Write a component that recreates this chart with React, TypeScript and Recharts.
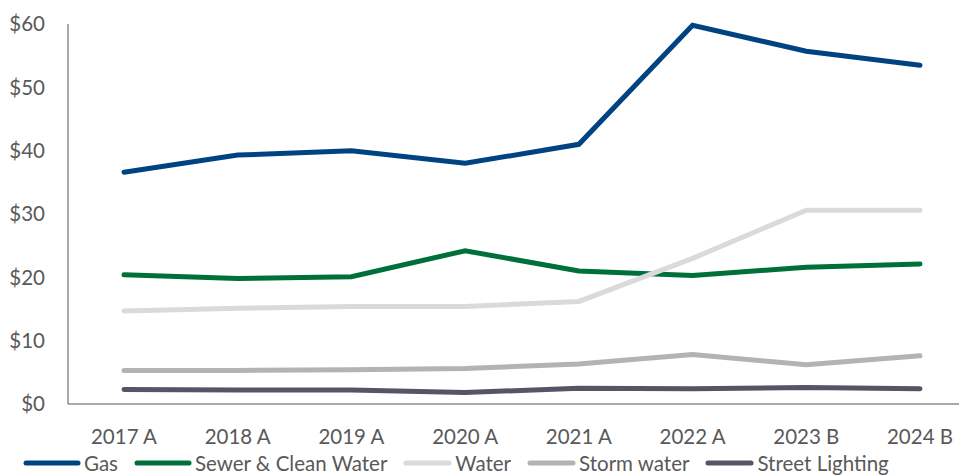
import { LineChart, Line, XAxis, YAxis, Legend } from "recharts";

const years = ["2017 A", "2018 A", "2019 A", "2020 A", "2021 A", "2022 A", "2023 B", "2024 B"];
const gas = [36.6, 39.3, 40.0, 38.0, 41.0, 59.8, 55.7, 53.5];
const sewer = [20.4, 19.8, 20.1, 24.2, 21.0, 20.3, 21.6, 22.1];
const water = [14.7, 15.1, 15.4, 15.4, 16.2, 23.0, 30.6, 30.6];
const storm = [5.3, 5.3, 5.4, 5.6, 6.3, 7.8, 6.2, 7.6];
const street = [2.3, 2.2, 2.2, 1.8, 2.5, 2.4, 2.6, 2.4];
const yTicks = [0, 10, 20, 30, 40, 50, 60];

const series = [
  { key: "gas", name: "Gas", color: "#004383" },
  { key: "sewer", name: "Sewer & Clean Water", color: "#00703b" },
  { key: "water", name: "Water", color: "#dadada" },
  { key: "storm", name: "Storm water", color: "#b3b3b3" },
  { key: "street", name: "Street Lighting", color: "#575465" },
];

const data = years.map((year, i) => ({
  year,
  gas: gas[i],
  sewer: sewer[i],
  water: water[i],
  storm: storm[i],
  street: street[i],
}));

const font = "Lato, 'Open Sans', sans-serif";
const fontSize = 20.5;

function LegendRow() {
  return (
    <div style={{ display: "flex", alignItems: "center", whiteSpace: "nowrap", fontFamily: font, fontSize, color: "#595959" }}>
      {series.map((s, i) => (
        <div key={s.key} style={{ display: "flex", alignItems: "center", marginRight: 16 }}>
          <svg width={i < 2 ? 58 : 49} height={10} style={{ marginRight: 3 }}>
            <line x1={3} y1={5} x2={i < 2 ? 55 : 46} y2={5} stroke={s.color} strokeWidth={5} strokeLinecap="round" />
          </svg>
          <span>{s.name}</span>
        </div>
      ))}
    </div>
  );
}

export default function App() {
  return (
    <div style={{ position: "absolute", left: 0, top: 0, width: 959, height: 475, overflow: "hidden", background: "#fff" }}>
      <LineChart width={976} height={475} data={data} margin={{ top: 24, right: 0, bottom: 0, left: 0 }}>
        <XAxis
          dataKey="year"
          tickLine={false}
          tickSize={0}
          tickMargin={25}
          height={44}
          padding={{ left: 56, right: 56 }}
          axisLine={{ stroke: "#8c8c8c", strokeWidth: 1.5 }}
          tick={{ fill: "#595959", fontSize, fontFamily: font }}
        />
        <YAxis
          domain={[0, 60]}
          ticks={yTicks}
          interval={0}
          width={68}
          tickLine={false}
          tickSize={0}
          tickMargin={23}
          axisLine={{ stroke: "#8c8c8c", strokeWidth: 1.5 }}
          tickFormatter={(v) => `$${v}`}
          tick={{ fill: "#595959", fontSize, fontFamily: font }}
        />
        <Legend
          verticalAlign="bottom"
          height={27}
          content={() => <LegendRow />}
          wrapperStyle={{ left: 23, top: 451, width: 1100 }}
        />
        {series.map((s) => (
          <Line
            key={s.key}
            dataKey={s.key}
            name={s.name}
            type="linear"
            stroke={s.color}
            strokeWidth={5}
            strokeLinecap="round"
            dot={false}
            activeDot={false}
            isAnimationActive={false}
          />
        ))}
      </LineChart>
    </div>
  );
}
